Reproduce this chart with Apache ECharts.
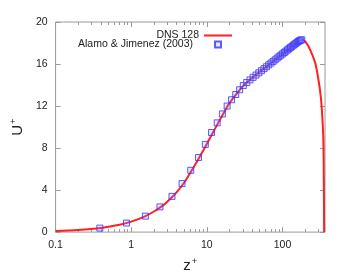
<!DOCTYPE html>
<html><head><meta charset="utf-8">
<script src="https://cdn.jsdelivr.net/npm/echarts@6/dist/echarts.min.js"></script>
<style>html,body{margin:0;padding:0;background:#fff}#c{width:343px;height:278px}</style>
</head><body><div id="c"></div>
<script>
// DNS 128 profile
const dnsZ = [0.1,0.2,0.4,0.7,1,1.5,2,2.5,3,3.5,4,5,6,7,8,9,10,12,14,16,18,20,25,30,40,50,60,80,100,120,140,160,180,200,234,271,299,321,336,347,352,354,355,355.5];
const dnsU = [0.1,0.2,0.4,0.7,1.0,1.48,1.96,2.42,2.9,3.36,3.8,4.7,5.6,6.4,7.15,7.8,8.4,9.45,10.35,11.1,11.75,12.3,13.2,13.9,14.7,15.25,15.7,16.4,16.95,17.4,17.78,18.08,18.3,18.15,17.3,16.1,14.5,12.9,11.0,8.8,5.0,2.0,0.5,0];
// Alamo & Jimenez (2003)
const ajZ = [0.385,0.867,1.54,2.40,3.46,4.70,6.13,7.75,9.55,11.54,13.70,16.04,18.56,21.25,24.12,27.14,30.34,33.69,37.20,40.86,44.67,48.62,52.72,56.95,61.32,65.81,70.42,75.15,80.00,84.95,90.00,95.15,100.39,105.71,111.12,116.60,122.14,127.75,133.41,139.13,144.88,150.68,156.51,162.36,168.23,174.11,180.0];
const ajU = [0.38,0.86,1.52,2.40,3.40,4.62,5.88,7.10,8.35,9.48,10.40,11.25,12.00,12.60,13.10,13.55,13.95,14.24,14.49,14.73,14.95,15.16,15.36,15.56,15.74,15.92,16.09,16.25,16.40,16.56,16.70,16.84,16.97,17.10,17.23,17.35,17.46,17.58,17.68,17.79,17.89,17.97,18.07,18.15,18.22,18.28,18.30];
const xMajor = [0.1,1,10,100];
const xMinor = [0.2,0.3,0.4,0.5,0.6,0.7,0.8,0.9,2,3,4,5,6,7,8,9,20,30,40,50,60,70,80,90,200,300];
const yMin = 0, yMax = 20, yStep = 4;
const xMin = 0.1, xMax = 365;

const FONT = 'Liberation Sans';
const TXT = '#222';
const GRAY = '#9a9a9a';
const chart = echarts.init(document.getElementById('c'), null, {renderer:'canvas'});
function xAx(pos, ticks, len, labels) {
  return {
    type:'log', logBase:10, min:xMin, max:xMax, position:pos, gridIndex:0,
    axisLine:{show:false}, splitLine:{show:false},
    axisTick:{show:true, inside:true, length:len, customValues:ticks, lineStyle:{color:GRAY, width:1}},
    axisLabel: labels ? {show:true, customValues:xMajor, margin:8, color:TXT, fontFamily:FONT, fontSize:10.5,
      formatter: v => String(v)} : {show:false}
  };
}
function yAx(pos, labels) {
  return {
    type:'value', min:yMin, max:yMax, interval:yStep, position:pos, gridIndex:0,
    axisLine:{show:false}, splitLine:{show:false},
    axisTick:{show:true, inside:true, length:5, lineStyle:{color:GRAY, width:1}},
    axisLabel: labels ? {show:true, margin:8, color:TXT, fontFamily:FONT, fontSize:10.5} : {show:false}
  };
}
const xMain = xAx('bottom', xMajor, 5, true);
xMain.name = '{b|z}{s|+}';
xMain.nameLocation = 'middle';
xMain.nameGap = 17;
xMain.nameTextStyle = {rich:{b:{fontSize:15, fontFamily:FONT, color:TXT, verticalAlign:'bottom'}, s:{fontSize:9.5, fontFamily:FONT, color:TXT, verticalAlign:'bottom', padding:[0,0,7,1]}}};
const yMain = yAx('left', true);
yMain.name = '{b|U}{s|+}';
yMain.nameLocation = 'middle';
yMain.nameGap = 23;
yMain.nameRotate = 90;
yMain.nameTextStyle = {rich:{b:{fontSize:15, fontFamily:FONT, color:TXT, verticalAlign:'bottom'}, s:{fontSize:9.5, fontFamily:FONT, color:TXT, verticalAlign:'bottom', padding:[0,0,7,1]}}};

chart.setOption({
  animation:false,
  backgroundColor:'#fff',
  grid:{left:48, right:18, top:22, bottom:45, show:true, borderColor:GRAY, borderWidth:1, backgroundColor:'transparent'},
  xAxis:[xMain, xAx('bottom', xMinor, 3, false), xAx('top', xMajor, 5, false), xAx('top', xMinor, 3, false)],
  yAxis:[yMain, yAx('right', false)],
  legend:[
    {data:[{name:'DNS 128', icon:'rect'}], orient:'vertical', align:'right', right:111, top:30, padding:0, itemWidth:28, itemHeight:2,
     itemStyle:{color:'#ff2020', borderWidth:0},
     textStyle:{color:TXT, fontFamily:FONT, fontSize:10.5}},
    {data:['Alamo & Jimenez (2003)'], orient:'vertical', align:'right', right:121, top:39, padding:0, itemWidth:6, itemHeight:6,
     textStyle:{color:TXT, fontFamily:FONT, fontSize:10.5, padding:[0,17,0,0]}}
  ],
  series:[
    {name:'DNS 128', type:'line', xAxisIndex:0, yAxisIndex:0, showSymbol:false, symbol:'none', smooth:0.3,
     lineStyle:{color:'#ff2020', width:2}, itemStyle:{color:'#ff2020'},
     data: dnsZ.map((z,i)=>[z, dnsU[i]]), z:2},
    {name:'Alamo & Jimenez (2003)', type:'scatter', xAxisIndex:0, yAxisIndex:0, symbol:'rect', symbolSize:6,
     itemStyle:{color:'rgba(140,140,255,0.25)', borderColor:'#3535ff', borderWidth:1},
     data: ajZ.map((z,i)=>[z, ajU[i]]), z:3}
  ]
});
</script></body></html>
